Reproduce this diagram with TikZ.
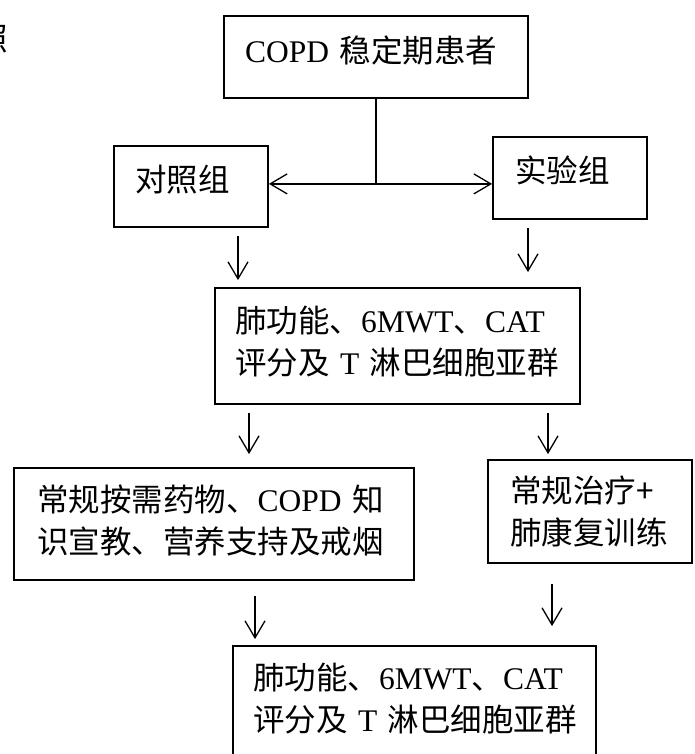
\documentclass[tikz,border=0pt]{standalone}
\usepackage{fontspec}
\setmainfont{Noto Sans CJK SC}
\newfontfamily\latinfont{Liberation Serif}
\usetikzlibrary{arrows.meta}
\newcommand{\enf}[1]{{\latinfont #1}}
\begin{document}
\begin{tikzpicture}[x=1pt,y=1pt,
  box/.style={draw=drawColor,line width=1.8pt,inner ysep=0pt,align=left,
    font=\fontsize{31.5}{42}\selectfont},
  arr/.style={draw=drawColor,line width=1.3pt,-{Straight Barb[length=17pt,width=20pt]}},
  biarr/.style={draw=drawColor,line width=1.3pt,
    {Straight Barb[length=17pt,width=20pt]}-{Straight Barb[length=17pt,width=20pt]}},
  link/.style={draw=drawColor,line width=1.3pt}]
\definecolor{drawColor}{RGB}{0,0,0}
\path[use as bounding box] (0,0) rectangle (694,754);
\begin{scope}
\path[clip] (0,0) rectangle (694,754);

% boxes
\node[box,inner xsep=21pt,text width=262pt,minimum height=82pt,text depth=15pt] (top) at (376,697) {\mbox{\enf{COPD~}稳定期患者}};
\node[box,inner xsep=21pt,text width=112pt,minimum height=81pt,text depth=16pt] (ctrl) at (191,567.5) {对照组};
\node[box,inner xsep=22pt,text width=110pt,minimum height=82pt,text depth=17pt] (exp) at (570,576) {实验组};
\node[box,inner xsep=20pt,text width=325pt,minimum height=116pt,text depth=53pt] (mid) at (397.5,408) {\mbox{肺功能、\enf{6MWT}、\enf{CAT}}\\\mbox{评分及\enf{~T~}淋巴细胞亚群}};
\node[box,inner xsep=23pt,text width=354pt,minimum height=112pt,text depth=51pt] (lft) at (214,230) {\mbox{常规按需药物、\enf{COPD~}知}\\\mbox{识宣教、营养支持及戒烟}};
\node[box,inner xsep=22pt,text width=160pt,minimum height=103pt] (rgt) at (590,242.5) {常规治疗+\\肺康复训练};
\node[box,inner xsep=20pt,text width=323pt,minimum height=114pt,text depth=54pt] (res) at (414.5,51) {\mbox{肺功能、\enf{6MWT}、\enf{CAT}}\\\mbox{评分及\enf{~T~}淋巴细胞亚群}};

% cut-off text at the left edge
\node[inner sep=0pt,font=\fontsize{31.5}{42}\selectfont] (cut) at (-8,715) {照};

% connectors
\coordinate (split) at ([yshift=-85pt]top.south);
\draw[link] (top.south) -- (split);
\draw[biarr] (split -| ctrl.east) -- (split -| exp.west);

\draw[arr,shorten <=8pt,shorten >=7pt] ([xshift=47pt]ctrl.south) -- ([xshift=47pt]ctrl.south |- mid.north);
\draw[arr,shorten <=8pt,shorten >=15pt] ([xshift=-42pt]exp.south) -- ([xshift=-42pt]exp.south |- mid.north);
\draw[arr,shorten <=8pt,shorten >=13pt] ([xshift=-148.5pt]mid.south) -- ([xshift=-148.5pt]mid.south |- lft.north);
\draw[arr,shorten <=8pt,shorten >=5pt] ([xshift=150.5pt]mid.south) -- ([xshift=150.5pt]mid.south |- rgt.north);
\draw[arr,shorten <=15pt,shorten >=6pt] ([xshift=41pt]lft.south) -- ([xshift=41pt]lft.south |- res.north);
\draw[arr,shorten <=20pt,shorten >=19pt] ([xshift=-38pt]rgt.south) -- ([xshift=-38pt]rgt.south |- res.north);
\end{scope}
\end{tikzpicture}
\end{document}
